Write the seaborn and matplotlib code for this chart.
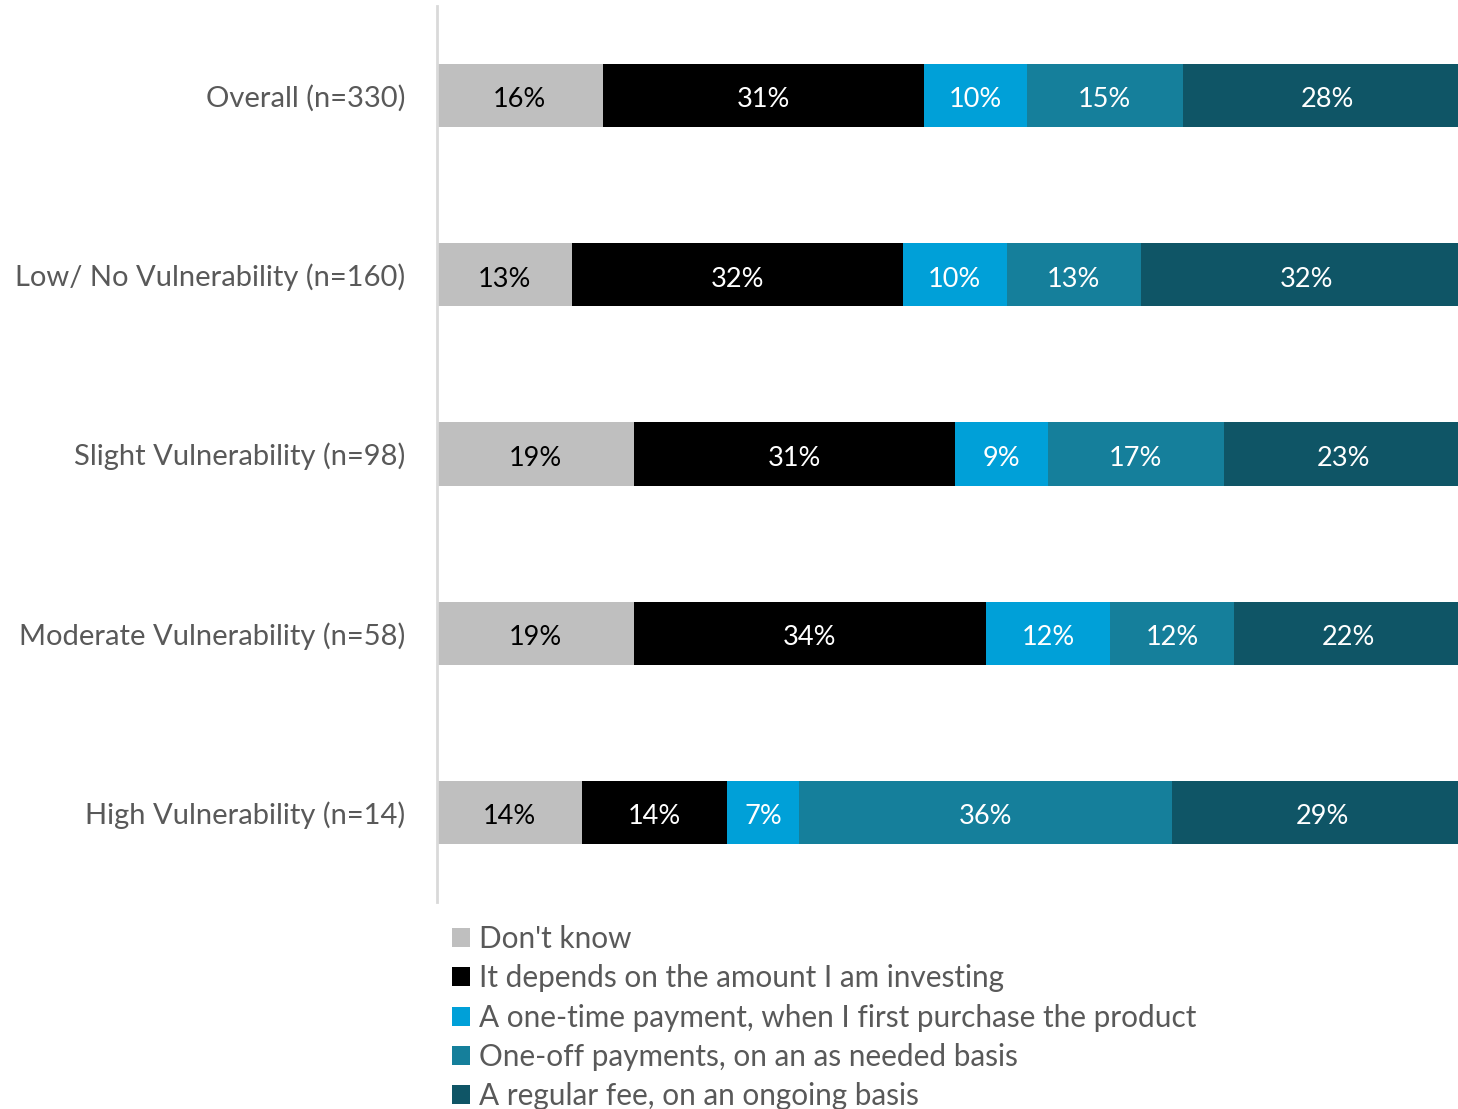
import matplotlib
matplotlib.use("Agg")
import matplotlib.pyplot as plt
from matplotlib.patches import Patch
import numpy as np
import pandas as pd
import seaborn as sns

groups = [
    "Overall (n=330)",
    "Low/ No Vulnerability (n=160)",
    "Slight Vulnerability (n=98)",
    "Moderate Vulnerability (n=58)",
    "High Vulnerability (n=14)",
]
series = [
    "Don't know",
    "It depends on the amount I am investing",
    "A one-time payment, when I first purchase the product",
    "One-off payments, on an as needed basis",
    "A regular fee, on an ongoing basis",
]
dont_know = [16, 13, 19, 19, 14]
depends = [31, 32, 31, 34, 14]
one_time = [10, 10, 9, 12, 7]
one_off = [15, 13, 17, 12, 36]
regular = [28, 32, 23, 22, 29]

colors = ["#BFBFBF", "#000000", "#00A0D8", "#157F9B", "#0F5566"]
label_colors = ["#000000", "#FFFFFF", "#FFFFFF", "#FFFFFF", "#FFFFFF"]
text_grey = "#595959"

sns.set_theme(style="white")
plt.rcParams["font.family"] = ["Lato", "DejaVu Sans"]

values = np.array([dont_know, depends, one_time, one_off, regular], dtype=float)
cum = np.cumsum(values, axis=0)

fig = plt.figure(figsize=(14.58, 11.09), dpi=100)
ax = fig.add_axes([437 / 1458, 1 - 902 / 1109, 1 - 437 / 1458, 896 / 1109])

# Stacked bars: draw cumulative totals from the outermost segment inward
for i in range(len(series) - 1, -1, -1):
    df = pd.DataFrame({"group": groups, "total": cum[i]})
    sns.barplot(data=df, x="total", y="group", orient="h", color=colors[i],
                width=0.352, saturation=1, ax=ax, linewidth=0, errorbar=None)

for i in range(len(series)):
    for j in range(len(groups)):
        v = values[i, j]
        center = cum[i, j] - v / 2
        ax.text(center, j + 0.01, f"{int(v)}%", ha="center", va="center_baseline",
                fontsize=19.5, color=label_colors[i])

ax.set_xlim(0, 98.6)
ax.set_ylim(4.5, -0.5)
ax.set_xlabel("")
ax.set_ylabel("")
ax.set_xticks([])
ax.tick_params(axis="y", length=0, pad=23, labelsize=21, labelcolor=text_grey)
for s in ["top", "right", "bottom"]:
    ax.spines[s].set_visible(False)
ax.spines["left"].set_color("#D9D9D9")
ax.spines["left"].set_linewidth(2)

handles = [Patch(facecolor=c, edgecolor="none") for c in colors]
fig.legend(handles, series, loc="upper left", bbox_to_anchor=(452 / 1458, 1 - 925 / 1109),
           frameon=False, fontsize=21.4, labelcolor=text_grey, handlelength=0.6,
           handleheight=0.6, handletextpad=0.3, labelspacing=0.38, borderpad=0,
           borderaxespad=0)

fig.savefig("out.png", dpi=100, facecolor="white")
